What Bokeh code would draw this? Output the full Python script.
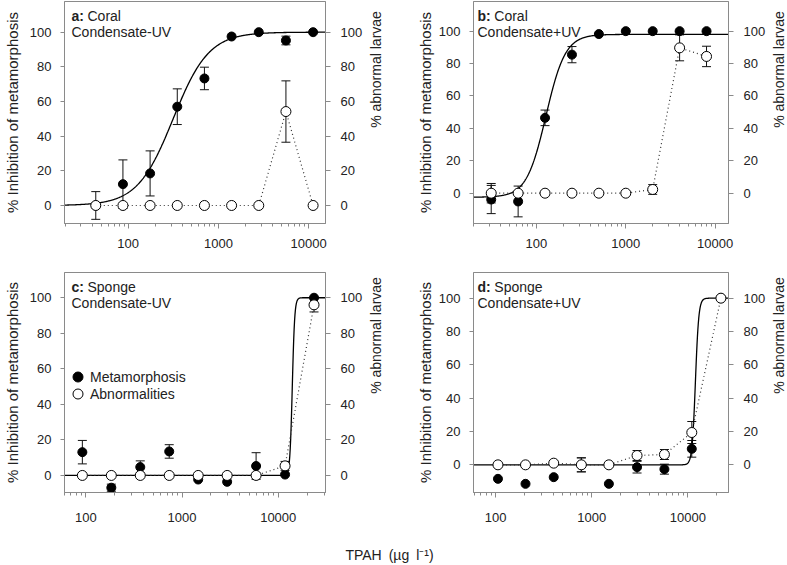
import numpy as np
from bokeh.plotting import figure
from bokeh.models import (Range1d, LinearAxis, FixedTicker, PrintfTickFormatter, Whisker,
                          ColumnDataSource, Label, Legend, LegendItem, TeeHead)
from bokeh.layouts import column, row
from bokeh.embed import file_html
from bokeh.resources import INLINE

# ---------------- data ----------------
# Panel a: Coral, Condensate-UV
a_conc = [43.75, 87.5, 175, 350, 700, 1400, 2800, 5600, 11200]
a_met = [0, 12.3, 18.5, 57, 73.3, 97.5, 100, 95.2, 100]
a_met_err = [8, 14, 13, 10.3, 6.5, 0, 0, 2.5, 0]
a_abn = [0, 0, 0, 0, 0, 0, 0, 54.2, 0]
a_abn_err = [0, 0, 0, 0, 0, 0, 0, 17.7, 0]
a_fit = dict(bottom=0, top=100, ec50=315, hill=2.2)

# Panel b: Coral, Condensate+UV
b_conc = [31.25, 62.5, 125, 250, 500, 1000, 2000, 4000, 8000]
b_met = [-3.9, -5.1, 46.5, 85.5, 98.2, 100, 100, 100, 100]
b_met_err = [8.7, 9.5, 4.8, 5.0, 0, 0, 0, 0, 0]
b_abn = [0, 0, 0, 0, 0, 0, 2.3, 89.7, 84.4]
b_abn_err = [6, 0, 0, 0, 0, 0, 3, 8, 6.3]
b_fit = dict(bottom=-2.5, top=98, ec50=128, hill=4)

# Panel c: Sponge, Condensate-UV
c_conc = [92, 184, 368, 736, 1472, 2944, 5888, 11776, 23552]
c_met = [13.1, -6.9, 4.7, 13.5, -2.3, -3.6, 5.3, 0.5, 100]
c_met_err = [6.6, 2, 3.5, 3.8, 0, 0, 7.5, 0, 0]
c_abn = [0, 0, 0, 0, 0, 0, 0, 5.4, 96]
c_abn_err = [0, 0, 0, 0, 0, 0, 0, 2.5, 4]
c_fit = dict(bottom=0, top=100, ec50=14000, hill=35)

# Panel d: Sponge, Condensate+UV
d_conc = [106, 205, 403, 781, 1510, 2965, 5710, 11000, 22100]
d_met = [-8.4, -11.4, -7.4, 0, -11.4, -1.4, -2.6, 9.6, 100]
d_met_err = [0, 0, 0, 4.2, 0, 3.5, 3, 5, 0]
d_abn = [0, 0, 1, 0, 0, 5.6, 6.2, 19.4, 100]
d_abn_err = [0, 0, 0, 4.2, 0, 3, 3, 6.6, 0]
d_fit = dict(bottom=0, top=100, ec50=12000, hill=25)

x_major = [100, 1000, 10000]
y_ticks = [0, 20, 40, 60, 80, 100]
left_label = "% Inhibition of metamorphosis"
right_label = "% abnormal larvae"
x_label = "TPAH\u2002(\u00b5g\u2002l\u207b\u00b9)"
legend_labels = ["Metamorphosis", "Abnormalities"]

FONT = "Liberation Sans"
GREY = "#8a8a8a"
TXT = "#222222"
INK = "#111111"


def hill(x, f):
    x = np.asarray(x, dtype=float)
    return f["bottom"] + (f["top"] - f["bottom"]) / (1.0 + (f["ec50"] / x) ** f["hill"])


def add_err(p, x, y, e):
    xs = [xi for xi, ei in zip(x, e) if ei > 0]
    up = [yi + ei for yi, ei in zip(y, e) if ei > 0]
    lo = [yi - ei for yi, ei in zip(y, e) if ei > 0]
    if not xs:
        return
    src = ColumnDataSource(dict(base=xs, upper=up, lower=lo))
    w = Whisker(source=src, base="base", upper="upper", lower="lower", dimension="height",
                line_color=INK, line_width=1, level="underlay",
                upper_head=TeeHead(size=9, line_color=INK, line_width=1),
                lower_head=TeeHead(size=9, line_color=INK, line_width=1))
    p.add_layout(w)


def make_panel(conc, met, met_err, abn, abn_err, fit, xr, yr, letter, line1, line2,
               width, height, bl, br, bt, bb, xstand, lstand, txoff, with_legend=False):
    p = figure(width=width, height=height, x_axis_type="log",
               x_range=Range1d(*xr), y_range=Range1d(*yr),
               output_backend="svg", toolbar_location=None,
               min_border_left=bl, min_border_right=br, min_border_top=bt, min_border_bottom=bb)
    p.grid.visible = False
    p.outline_line_color = GREY
    p.outline_line_width = 1
    p.background_fill_color = "white"
    p.border_fill_color = "white"

    # x axis
    xa = p.xaxis[0]
    xa.ticker = FixedTicker(ticks=x_major,
                            minor_ticks=[m * d for d in (10, 100, 1000, 10000) for m in range(2, 10)])
    xa.formatter = PrintfTickFormatter(format="%d")
    xa.axis_line_color = GREY
    xa.major_tick_line_color = GREY
    xa.minor_tick_line_color = GREY
    xa.major_tick_in = 0
    xa.major_tick_out = 5
    xa.minor_tick_in = 0
    xa.minor_tick_out = 3
    xa.major_label_text_font = FONT
    xa.major_label_text_font_size = "13px"
    xa.major_label_text_color = TXT
    xa.major_label_standoff = xstand

    # left y axis
    ya = p.yaxis[0]
    ya.ticker = FixedTicker(ticks=y_ticks, minor_ticks=[])
    ya.axis_line_color = GREY
    ya.major_tick_line_color = GREY
    ya.major_tick_in = 0
    ya.major_tick_out = 4
    ya.major_label_text_font = FONT
    ya.major_label_text_font_size = "13px"
    ya.major_label_text_color = TXT
    ya.major_label_standoff = 9
    ya.axis_label = left_label
    ya.axis_label_text_font = FONT
    ya.axis_label_text_font_size = "15px"
    ya.axis_label_text_font_style = "normal"
    ya.axis_label_text_color = TXT
    ya.axis_label_standoff = lstand

    # right y axis (tick labels only; its title sits in a narrow strip next to it)
    ra = LinearAxis(ticker=FixedTicker(ticks=y_ticks, minor_ticks=[]))
    ra.axis_line_color = GREY
    ra.major_tick_line_color = GREY
    ra.major_tick_in = 0
    ra.major_tick_out = 5
    ra.major_label_text_font = FONT
    ra.major_label_text_font_size = "13px"
    ra.major_label_text_color = TXT
    ra.major_label_standoff = 10
    p.add_layout(ra, "right")

    # error bars
    add_err(p, conc, met, met_err)
    add_err(p, conc, abn, abn_err)

    # fitted curve
    xs = np.logspace(np.log10(xr[0]), np.log10(xr[1]), 600)
    p.line(xs, hill(xs, fit), line_color="black", line_width=1.3)

    # abnormal dotted connection
    p.line(conc, abn, line_color="#333333", line_width=1.2, line_dash="1 3")

    r_met = p.scatter(conc, met, size=9, fill_color="black", line_color="black", line_width=1)
    r_abn = p.scatter(conc, abn, size=10, fill_color="white", line_color="black", line_width=1)

    # panel title
    lb = Label(x=xr[0], y=yr[1], x_offset=txoff, y_offset=-14, text=letter + ":",
               text_font=FONT, text_font_size="14px", text_font_style="bold",
               text_color=TXT, text_baseline="middle")
    bw = {"a": 12.5, "b": 13.3, "c": 12.5, "d": 13.3}[letter] + 3.5
    lt = Label(x=xr[0], y=yr[1], x_offset=txoff + bw, y_offset=-14, text=line1,
               text_font=FONT, text_font_size="14px", text_color=TXT, text_baseline="middle")
    l2 = Label(x=xr[0], y=yr[1], x_offset=txoff, y_offset=-30, text=line2,
               text_font=FONT, text_font_size="14px", text_color=TXT, text_baseline="middle")
    p.add_layout(lb)
    p.add_layout(lt)
    p.add_layout(l2)

    if with_legend:
        for rend, lab, vy in ((r_met, legend_labels[0], 103), (r_abn, legend_labels[1], 86)):
            leg = Legend(items=[LegendItem(label=lab, renderers=[rend])],
                         location=(1, vy), orientation="vertical",
                         glyph_width=25, glyph_height=25, label_height=17, spacing=0,
                         label_standoff=0, padding=0, margin=0,
                         border_line_color=None, background_fill_alpha=0,
                         label_text_font=FONT, label_text_font_size="14px",
                         label_text_color=TXT)
            p.add_layout(leg, "center")
    return p


def side_title(width, height, cx, cy):
    s = figure(width=width, height=height, x_range=Range1d(0, 1), y_range=Range1d(0, 1),
               output_backend="svg", toolbar_location=None,
               x_axis_location=None, y_axis_location=None,
               min_border_left=0, min_border_right=0, min_border_top=0, min_border_bottom=0)
    s.grid.visible = False
    s.outline_line_color = None
    s.add_layout(Label(x=cx, y=cy, x_units="screen", y_units="screen", text=right_label,
                       angle=np.pi / 2, text_align="center", text_baseline="middle",
                       text_font=FONT, text_font_size="14px", text_color=TXT))
    return s


pa = make_panel(a_conc, a_met, a_met_err, a_abn, a_abn_err, a_fit, (19.7, 15370), (-10.4, 117.7),
                "a", "Coral", "Condensate-UV", 366, 262, 58, 41, 1, 39, 10, 6, 7)
ga = side_title(47, 262, 9, 154)
pb = make_panel(b_conc, b_met, b_met_err, b_abn, b_abn_err, b_fit, (19.8, 14090), (-18.7, 118.3),
                "b", "Coral", "Condensate+UV", 355, 262, 55, 37, 1, 39, 10, 2, 4)
gb = side_title(18, 262, 10, 154)

pc = make_panel(c_conc, c_met, c_met_err, c_abn, c_abn_err, c_fit, (60, 31000), (-9.6, 114.2),
                "c", "Sponge", "Condensate-UV", 366, 273, 58, 41, 10, 43, 15, 6, 7,
                with_legend=True)
gc = side_title(47, 273, 9, 157)
pd_ = make_panel(d_conc, d_met, d_met_err, d_abn, d_abn_err, d_fit, (59, 26500), (-16.6, 115.4),
                 "d", "Sponge", "Condensate+UV", 355, 273, 55, 37, 10, 43, 15, 2, 4)
gd = side_title(18, 273, 10, 157)

pl = figure(width=786, height=29, x_range=Range1d(0, 1), y_range=Range1d(0, 1),
            output_backend="svg", toolbar_location=None,
            x_axis_location=None, y_axis_location=None,
            min_border_left=0, min_border_right=0, min_border_top=0, min_border_bottom=0)
pl.grid.visible = False
pl.outline_line_color = None
pl.add_layout(Label(x=389, y=10, x_units="screen", y_units="screen", text=x_label,
                    text_font=FONT, text_font_size="14px", text_color=TXT,
                    text_align="center", text_baseline="middle"))

layout = column(row(pa, ga, pb, gb), row(pc, gc, pd_, gd), pl)
open("out.html", "w").write(file_html(layout, INLINE))
